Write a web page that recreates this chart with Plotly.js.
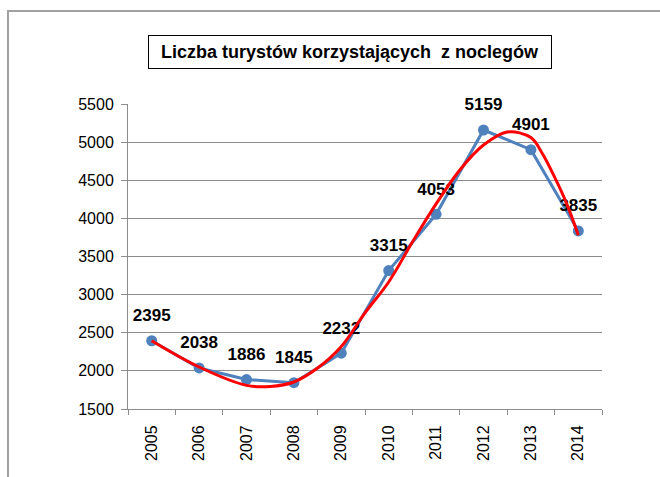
<!DOCTYPE html>
<html>
<head>
<meta charset="utf-8">
<script src="https://cdn.plot.ly/plotly-3.0.1.min.js"></script>
<style>html,body{margin:0;padding:0;background:#fff;}#chart{width:660px;height:477px;}</style>
</head>
<body>
<div id="chart"></div>
<script>
// Data
var years = [2005, 2006, 2007, 2008, 2009, 2010, 2011, 2012, 2013, 2014];
var tourists = [2395, 2038, 1886, 1845, 2232, 3315, 4053, 5159, 4901, 3835];
var yearLabels = ["2005", "2006", "2007", "2008", "2009", "2010", "2011", "2012", "2013", "2014"];
// Hand-drawn red trend curve
var trendX = [2005, 2006, 2007, 2007.5, 2008, 2008.5, 2009, 2009.5, 2010, 2010.5, 2011, 2011.5, 2012, 2012.5, 2013, 2013.25, 2013.5, 2013.75, 2014];
var trendY = [2395, 2051, 1810, 1795, 1854, 2037, 2320, 2760, 3166, 3690, 4190, 4635, 4962, 5133, 5060, 4840, 4540, 4200, 3780];
var titleText = "Liczba turystów korzystających  z noclegów";

var gridGray = "#8c8c8c";
var fontFam = "'Liberation Sans', Arial, sans-serif";

var traces = [
  {
    x: years, y: tourists, type: "scatter", mode: "lines+markers",
    line: {color: "#4F81BD", width: 3},
    marker: {color: "#4F81BD", size: 11},
    hoverinfo: "skip", showlegend: false
  },
  {
    x: years, y: tourists, type: "scatter", mode: "markers+text",
    text: tourists.map(String), textposition: "top center",
    textfont: {family: fontFam, size: 17, color: "#000", weight: "bold"},
    marker: {size: 23, opacity: 0, color: "#fff"},
    cliponaxis: false,
    hoverinfo: "skip", showlegend: false
  },
  {
    x: trendX, y: trendY, type: "scatter", mode: "lines",
    line: {color: "#FF0000", width: 3, shape: "spline", smoothing: 1},
    cliponaxis: false,
    hoverinfo: "skip", showlegend: false
  }
];

var layout = {
  width: 660, height: 477,
  margin: {l: 128, r: 58, t: 104, b: 68},
  paper_bgcolor: "#fff", plot_bgcolor: "#fff",
  font: {family: fontFam, size: 16, color: "#000"},
  showlegend: false,
  xaxis: {
    type: "linear", range: [2004.5, 2014.5],
    tickmode: "array", tickvals: years, ticktext: yearLabels,
    tickangle: -90, ticks: "", showgrid: false, zeroline: false,
    showline: true, linecolor: gridGray, linewidth: 1,
    ticklabelstandoff: 9,
    tickfont: {family: fontFam, size: 16, color: "#000"},
    minor: {tickmode: "linear", tick0: 2004.5, dtick: 1, ticks: "outside", ticklen: 5, tickcolor: gridGray, tickwidth: 1, showgrid: false},
    fixedrange: true
  },
  yaxis: {
    range: [1500, 5500], dtick: 500, tick0: 1500,
    ticks: "outside", ticklen: 6, tickcolor: gridGray, tickwidth: 1,
    showgrid: true, gridcolor: gridGray, gridwidth: 1,
    showline: true, linecolor: gridGray, linewidth: 1,
    zeroline: false, ticklabelstandoff: 4,
    tickfont: {family: fontFam, size: 16, color: "#000"},
    fixedrange: true
  },
  shapes: [
    {type: "rect", xref: "paper", yref: "paper", x0: -0.2532, x1: 1.6, y0: -1, y1: 1.3049,
     line: {color: "#a0a0a0", width: 2}, fillcolor: "rgba(0,0,0,0)", layer: "below"}
  ],
  annotations: [
    {xref: "paper", yref: "paper", x: 0.4684, y: 1.1705, xanchor: "center", yanchor: "middle",
     text: "<b>" + titleText + "</b>", showarrow: false,
     font: {family: fontFam, size: 18, color: "#000"},
     bordercolor: "#000", borderwidth: 1, borderpad: 2, width: 398, height: 28, bgcolor: "#fff"}
  ]
};

Plotly.newPlot("chart", traces, layout, {staticPlot: true, displayModeBar: false});
</script>
</body>
</html>
